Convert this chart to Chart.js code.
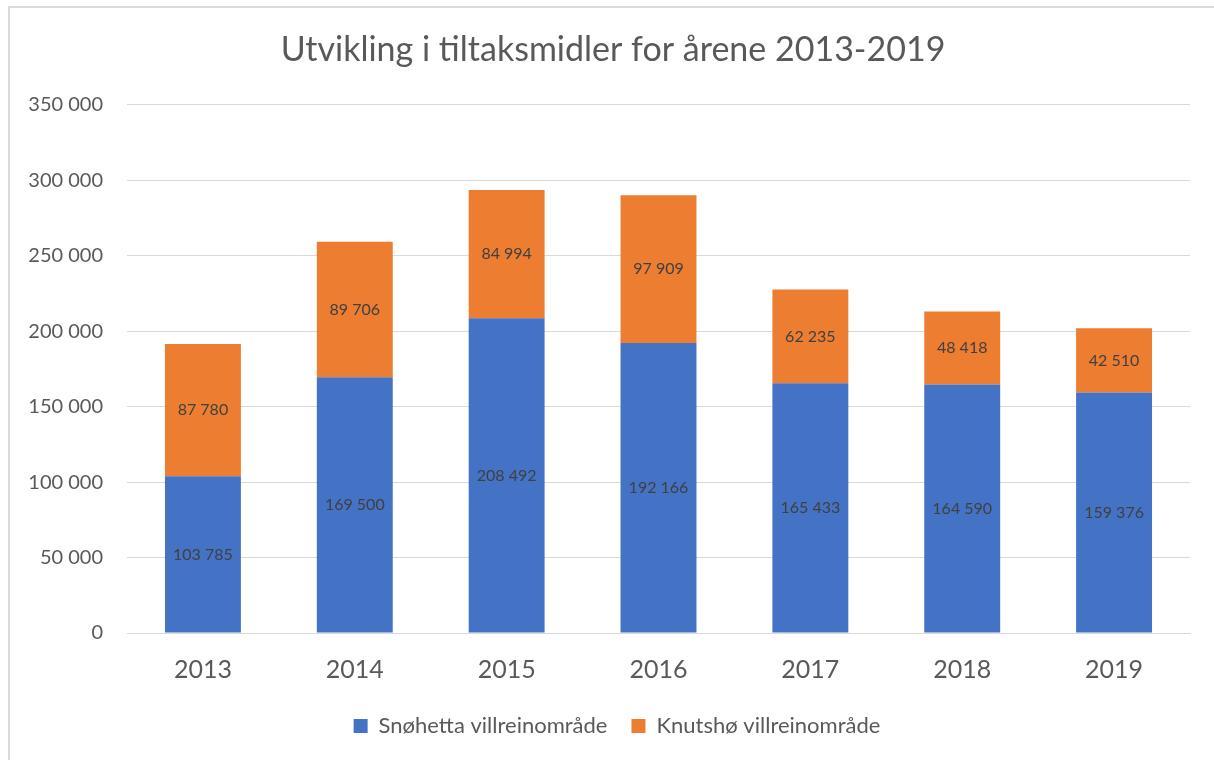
<!DOCTYPE html>
<html>
<head>
<meta charset="utf-8">
<script src="https://cdn.jsdelivr.net/npm/chart.js@4/dist/chart.umd.min.js"></script>
<style>
  html, body { margin: 0; padding: 0; background: #fff; }
  #wrap { position: relative; width: 1214px; height: 760px; overflow: hidden; }
  #frame { position: absolute; left: 8px; top: 6px; right: -10px; bottom: -10px;
           border-left: 2px solid #d9d9d9; border-top: 2px solid #d9d9d9; }
  #chart { position: absolute; left: 0; top: 0; }
</style>
</head>
<body>
<div id="wrap">
  <div id="frame"></div>
  <canvas id="chart" width="1214" height="760"></canvas>
</div>
<script>
'use strict'

//Data ---------------------------------------------------------
const years = ['2013', '2014', '2015', '2016', '2017', '2018', '2019'];
const snohettaValues = [103785, 169500, 208492, 192166, 165433, 164590, 159376];
const knutshoValues = [87780, 89706, 84994, 97909, 62235, 48418, 42510];
const seriesNames = ['Snøhetta villreinområde', 'Knutshø villreinområde'];
const yTicks = [0, 50000, 100000, 150000, 200000, 250000, 300000, 350000];
const chartTitle = 'Utvikling i tiltaksmidler for årene 2013-2019';

const textColor = '#595959';
const fontName = 'Lato, "Open Sans", sans-serif';

//Helpers ---------------------------------------------------------
function formatNumber(n) {
  return n.toString().replace(/\B(?=(\d{3})+(?!\d))/g, ' ');
}

// labels in the middle of each stacked piece
const barLabels = {
  id: 'barLabels',
  afterDatasetsDraw(chart) {
    const ctx = chart.ctx;
    ctx.save();
    ctx.font = '16px ' + fontName;
    ctx.fillStyle = '#404040';
    ctx.textAlign = 'center';
    ctx.textBaseline = 'middle';
    chart.data.datasets.forEach(function (ds, i) {
      const meta = chart.getDatasetMeta(i);
      meta.data.forEach(function (bar, j) {
        const p = bar.getCenterPoint();
        ctx.fillText(formatNumber(ds.data[j]), p.x, p.y);
      });
    });
    ctx.restore();
  }
};

// title and legend sit a bit right of the box centre in the original
const nudgeBoxes = {
  id: 'nudgeBoxes',
  afterLayout(chart) {
    chart.titleBlock.left += 18;
    chart.titleBlock.right += 18;
    chart.legend.left += 22;
    chart.legend.right += 22;
  }
};

//Chart ---------------------------------------------------------
Chart.defaults.font.family = fontName;
Chart.defaults.color = textColor;

const ctx = document.getElementById('chart').getContext('2d');
new Chart(ctx, {
  type: 'bar',
  data: {
    labels: years,
    datasets: [{
      label: seriesNames[0],
      data: snohettaValues,
      backgroundColor: '#4472C4',
      borderWidth: 0
    }, {
      label: seriesNames[1],
      data: knutshoValues,
      backgroundColor: '#ED7D31',
      borderWidth: 0
    }]
  },
  options: {
    responsive: false,
    animation: false,
    layout: { padding: { left: 0, right: 24, top: 0, bottom: 13 } },
    datasets: { bar: { categoryPercentage: 1, barPercentage: 0.5 } },
    plugins: {
      title: {
        display: true,
        text: chartTitle,
        color: textColor,
        font: { size: 34, weight: 'normal' },
        padding: { top: 30, bottom: 34 }
      },
      legend: {
        position: 'bottom',
        labels: {
          color: textColor,
          font: { size: 22 },
          boxWidth: 14,
          boxHeight: 14,
          padding: 24
        }
      },
      tooltip: { enabled: false }
    },
    scales: {
      x: {
        stacked: true,
        grid: { display: false, drawTicks: false },
        border: { display: true, color: '#d9d9d9', width: 1 },
        ticks: { color: textColor, font: { size: 25 }, padding: 22 },
        afterFit(scale) { scale.height = 58; }
      },
      y: {
        stacked: true,
        min: 0,
        max: 350000,
        afterBuildTicks(scale) {
          scale.ticks = yTicks.map(function (v) { return { value: v }; });
        },
        grid: { color: '#d9d9d9', lineWidth: 1, drawTicks: false },
        border: { display: false },
        ticks: {
          color: textColor,
          font: { size: 20 },
          padding: 24,
          callback: function (v) { return formatNumber(v); }
        },
        afterFit(scale) { scale.width = 127; }
      }
    }
  },
  plugins: [barLabels, nudgeBoxes]
});
</script>
</body>
</html>
